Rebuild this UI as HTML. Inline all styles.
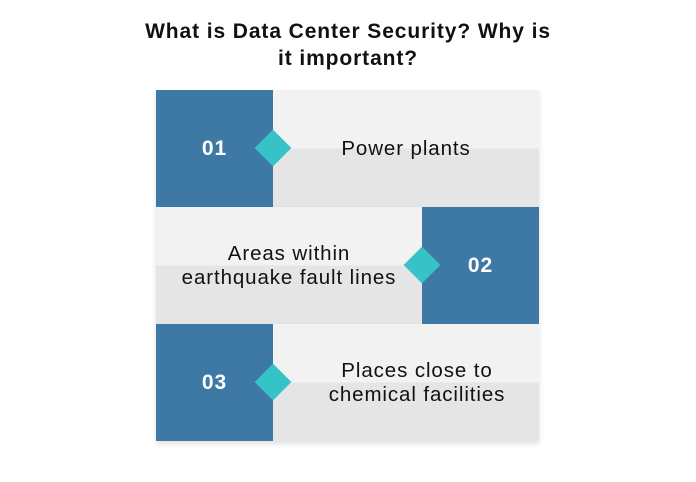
<!DOCTYPE html>
<html><head><style>
body{margin:0;width:696px;height:482px;background:#fff;position:relative;font-family:"Liberation Sans",sans-serif;overflow:hidden}
.t{position:absolute;left:0;width:696px;text-align:center;font-weight:bold;font-size:21px;letter-spacing:0.9px;color:#111;line-height:27px;top:18px}
.row{position:absolute;left:156px;width:383px;height:117px;background:linear-gradient(#f2f2f2 0,#f2f2f2 50%,#e5e5e5 50%,#e5e5e5 100%);box-shadow:0 3px 5px rgba(0,0,0,0.12)}
.b{position:absolute;top:0;width:117px;height:117px;background:#3e79a5;color:#fff;font-size:21px;font-weight:bold;letter-spacing:1px;display:flex;align-items:center;justify-content:center}
.d{position:absolute;width:26px;height:26px;background:#36c3c8;transform:rotate(45deg);top:45px}
.x{position:absolute;top:0;height:117px;display:flex;align-items:center;justify-content:center;text-align:center;font-size:20.5px;letter-spacing:0.9px;color:#111;line-height:24px;white-space:nowrap}
</style></head><body>
<div class="t">What is Data Center Security? Why is<br>it important?</div>
<div class="row" style="top:90px"><div class="b" style="left:0">01</div><div class="d" style="left:104px"></div><div class="x" style="left:117px;width:266px">Power plants</div></div>
<div class="row" style="top:207px"><div class="x" style="left:0;width:266px">Areas within<br>earthquake fault lines</div><div class="b" style="left:266px">02</div><div class="d" style="left:253px"></div></div>
<div class="row" style="top:324px"><div class="b" style="left:0">03</div><div class="d" style="left:104px"></div><div class="x" style="left:128px;width:266px">Places close to<br>chemical facilities</div></div>
</body></html>
